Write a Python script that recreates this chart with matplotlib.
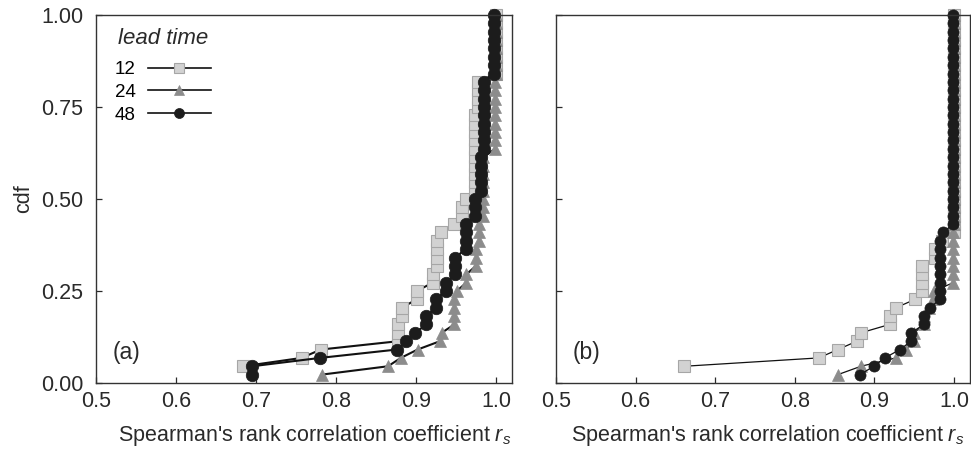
import numpy as np
import matplotlib
matplotlib.use("Agg")
import matplotlib.pyplot as plt

plt.rcParams['font.family'] = ['Liberation Sans', 'DejaVu Sans']
plt.rcParams['mathtext.fontset'] = 'custom'
plt.rcParams['mathtext.rm'] = 'Liberation Sans'
plt.rcParams['mathtext.it'] = 'Liberation Sans:italic'

n_years = 44

# panel (a): sorted Spearman r_s per lead time (first rank of each series)
a12_start = 2
a12 = [0.684, 0.757, 0.781, 0.878, 0.878, 0.878, 0.882, 0.882, 0.901, 0.901,
       0.921, 0.921, 0.926, 0.926, 0.926, 0.926, 0.931, 0.947, 0.957, 0.957,
       0.963, 0.974, 0.974, 0.974, 0.974, 0.974, 0.974, 0.974, 0.974, 0.974,
       0.974, 0.978, 0.978, 0.978, 0.978, 1.0, 1.0, 1.0, 1.0, 1.0, 1.0, 1.0, 1.0]
a24_start = 1
a24 = [0.782, 0.865, 0.881, 0.902, 0.930, 0.932, 0.948, 0.948, 0.948, 0.948,
       0.951, 0.963, 0.963, 0.975, 0.975, 0.975, 0.979, 0.979, 0.979, 0.984,
       0.984, 0.984, 0.984, 0.984, 0.984, 0.984, 0.984, 0.999, 0.999, 0.999,
       0.999, 0.999, 0.999, 0.999, 0.999, 0.999, 1.0, 1.0, 1.0, 1.0, 1.0, 1.0, 1.0, 1.0]
a48_start = 1
a48 = [0.695, 0.695, 0.780, 0.876, 0.888, 0.899, 0.913, 0.913, 0.925, 0.925,
       0.937, 0.937, 0.949, 0.949, 0.949, 0.962, 0.962, 0.962, 0.962, 0.974,
       0.974, 0.974, 0.981, 0.981, 0.981, 0.981, 0.981, 0.985, 0.985, 0.985,
       0.985, 0.985, 0.985, 0.985, 0.985, 0.985, 0.998, 0.998, 0.998, 0.998,
       0.998, 0.998, 0.998, 0.998]

# panel (b)
b12_start = 2
b12 = [0.661, 0.830, 0.854, 0.878, 0.883, 0.919, 0.919, 0.927, 0.951, 0.960,
       0.960, 0.960, 0.960, 0.976, 0.976, 0.985, 1.0, 1.0, 1.0, 1.0,
       1.0, 1.0, 1.0, 1.0, 1.0, 1.0, 1.0, 1.0, 1.0, 1.0,
       1.0, 1.0, 1.0, 1.0, 1.0, 1.0, 1.0, 1.0, 1.0, 1.0, 1.0, 1.0, 1.0]
b24_start = 1
b24 = [0.854, 0.883, 0.927, 0.940, 0.950, 0.950, 0.962, 0.962, 0.969, 0.973,
       0.975, 0.999, 0.999, 0.999, 0.999, 0.999, 0.999, 0.999, 1.0, 1.0,
       1.0, 1.0, 1.0, 1.0, 1.0, 1.0, 1.0, 1.0, 1.0, 1.0,
       1.0, 1.0, 1.0, 1.0, 1.0, 1.0, 1.0, 1.0, 1.0, 1.0, 1.0, 1.0, 1.0, 1.0]
b48_start = 1
b48 = [0.882, 0.899, 0.913, 0.932, 0.946, 0.946, 0.962, 0.962, 0.970, 0.982,
       0.982, 0.982, 0.982, 0.982, 0.982, 0.982, 0.982, 0.986, 0.999, 0.999,
       0.999, 0.999, 0.999, 0.999, 0.999, 0.999, 0.999, 0.999, 0.999, 0.999,
       0.999, 0.999, 0.999, 0.999, 0.999, 0.999, 0.999, 0.999, 0.999, 0.999,
       0.999, 0.999, 0.999, 0.999]

lead_labels = ['12', '24', '48']
xticks = [0.5, 0.6, 0.7, 0.8, 0.9, 1.0]
yticks = [0.0, 0.25, 0.5, 0.75, 1.0]


def cdf(vals, start):
    return np.arange(start, start + len(vals)) / n_years


styles = [
    dict(marker='s', mfc='#d2d2d2', mec='#a6a6a6', mew=0.8),
    dict(marker='^', mfc='#8c8c8c', mec='#8c8c8c', mew=0.5),
    dict(marker='o', mfc='#1c1c1c', mec='#1c1c1c', mew=0.5),
]

fig = plt.figure(figsize=(9.71, 4.51), dpi=100)
axa = fig.add_axes([96 / 971, 68 / 451, 416 / 971, 368 / 451])
axb = fig.add_axes([556 / 971, 68 / 451, 414 / 971, 368 / 451])

panels = [
    (axa, [(a12, a12_start), (a24, a24_start), (a48, a48_start)], 1.5, 9.0, '(a)', 0.526),
    (axb, [(b12, b12_start), (b24, b24_start), (b48, b48_start)], 0.9, 8.0, '(b)', 0.512),
]

for ax, series, lw, ms, tag, xl in panels:
    for (vals, start), st, lab in zip(series, styles, lead_labels):
        ax.plot(vals, cdf(vals, start), color='#111111', lw=lw, ms=ms,
                clip_on=False, label=lab, **st)
    ax.set_xlim(0.5, 1.02)
    ax.set_ylim(0, 1.0)
    ax.set_xticks(xticks)
    ax.set_xticklabels(['%.1f' % v for v in xticks])
    ax.set_yticks(yticks)
    ax.tick_params(direction='in', length=4, width=0.9, labelsize=15.5,
                   colors='#2a2a2a')
    ax.tick_params(axis='x', pad=5.5)
    ax.tick_params(axis='y', pad=9)
    for sp in ax.spines.values():
        sp.set_color('#333333')
        sp.set_linewidth(1.0)
    ax.set_xlabel("Spearman's rank correlation coefficient $r_s$",
                  fontsize=15.5, color='#2a2a2a')
    ax.xaxis.set_label_coords(xl, -0.108)
    ax.xaxis.label.set_va('top')
    ax.text(0.041, 0.082, tag, transform=ax.transAxes, fontsize=16.5,
            va='center', ha='left', color='#2a2a2a')

axa.set_yticklabels(['%.2f' % v for v in yticks])
axb.set_yticklabels([])
axa.set_ylabel('cdf', fontsize=15.5, color='#2a2a2a', labelpad=5)

handles, labels = axa.get_legend_handles_labels()
leg = axa.legend(handles, labels, loc='upper left', bbox_to_anchor=(0.0457, 0.874),
                 frameon=False, markerfirst=False,
                 fontsize=13.5, handlelength=3.36,
                 handletextpad=0.64, labelspacing=0.29, markerscale=0.8,
                 borderaxespad=0, borderpad=0)
for h in leg.legend_handles:
    h.set_linewidth(1.2)
axa.text(0.269, 0.9375, 'lead time', transform=axa.transAxes, fontsize=16,
         fontstyle='italic', ha='right', va='center', color='#2a2a2a')

fig.savefig('out.png', dpi=100)
